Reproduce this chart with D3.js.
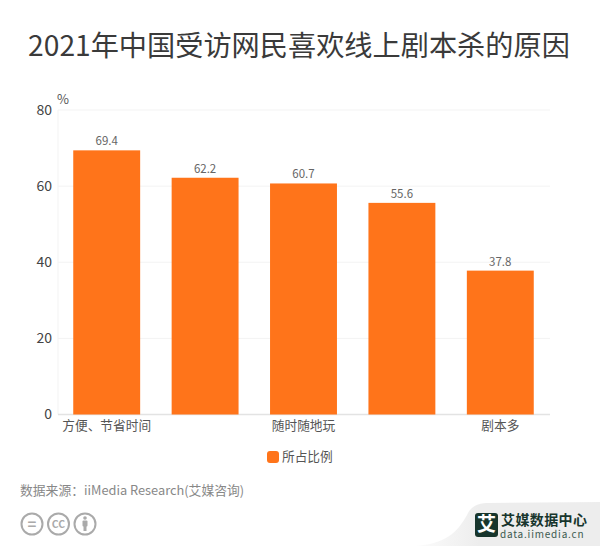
<!DOCTYPE html>
<html><head><meta charset="utf-8">
<script src="https://cdn.jsdelivr.net/npm/d3@7/dist/d3.min.js"></script>
<style>html,body{margin:0;padding:0;background:#fff}svg{display:block}text{font-family:"Noto Sans CJK SC","Noto Sans",sans-serif}</style>
</head><body><svg id="c" width="600" height="548"></svg>
<script>
const categories = ["方便、节省时间","cat2","随时随地玩","cat4","剧本多"];
const tickLabels = ["方便、节省时间","","随时随地玩","","剧本多"];
const values = [69.4,62.2,60.7,55.6,37.8];
const yTicks = [0,20,40,60,80];
const seriesName = "所占比例";
const titleText = "2021年中国受访网民喜欢线上剧本杀的原因";
const sourceText = "数据来源：iiMedia Research(艾媒咨询)";
const orange = "#ff741a";

const svg = d3.select("#c");
const x = d3.scaleBand().domain(categories).range([57.5,549.5]).paddingInner(0.32).paddingOuter(0.16);
const y = d3.scaleLinear().domain([0,80]).range([414.5,110]);

svg.append("text").attr("x",299).attr("y",56).attr("text-anchor","middle")
  .attr("font-size",28.2).attr("fill","#3a3a3a").text(titleText);

svg.append("g").selectAll("line").data(yTicks.filter(d=>d>0)).join("line")
  .attr("x1",58).attr("x2",550).attr("y1",d=>y(d)).attr("y2",d=>y(d))
  .attr("stroke","#f3f3f3").attr("stroke-width",1);
svg.append("line").attr("x1",58).attr("x2",58).attr("y1",110).attr("y2",414.5).attr("stroke","#f3f3f3");
svg.append("line").attr("x1",58).attr("x2",550).attr("y1",414.5).attr("y2",414.5).attr("stroke","#e3e3e3").attr("stroke-width",1.5);

svg.append("g").selectAll("text").data(yTicks).join("text")
  .attr("x",52).attr("y",d=>y(d)+4.5).attr("text-anchor","end")
  .attr("font-size",14).attr("fill","#444").text(d=>d);
svg.append("text").attr("x",57).attr("y",104).attr("font-size",13).attr("fill","#555").text("%");

svg.append("g").selectAll("rect").data(values).join("rect")
  .attr("x",(d,i)=>x(categories[i])).attr("width",x.bandwidth())
  .attr("y",d=>y(d)).attr("height",d=>y(0)-y(d)).attr("fill",orange);
svg.append("g").selectAll("text").data(values).join("text")
  .attr("x",(d,i)=>x(categories[i])+x.bandwidth()/2).attr("y",d=>y(d)-5)
  .attr("text-anchor","middle").attr("font-size",11.5).attr("fill","#666").text(d=>d.toFixed(1));
svg.append("g").selectAll("text").data(tickLabels).join("text")
  .attr("x",(d,i)=>x(categories[i])+x.bandwidth()/2).attr("y",430)
  .attr("text-anchor","middle").attr("font-size",12.7).attr("fill","#555").text(d=>d);

svg.append("rect").attr("x",267).attr("y",451).attr("width",12).attr("height",12).attr("rx",3).attr("fill",orange);
svg.append("text").attr("x",282).attr("y",461).attr("font-size",12.7).attr("fill","#555").text(seriesName);

svg.append("text").attr("x",20).attr("y",495).attr("font-size",12.8).attr("fill","#888").text(sourceText);

// licence icons
const icons = svg.append("g").attr("fill","none").attr("stroke","#aaa").attr("stroke-width",2);
[32,58.5,85].forEach(cx=>icons.append("circle").attr("cx",cx).attr("cy",524).attr("r",10.5));
svg.append("text").attr("x",32).attr("y",529.5).attr("text-anchor","middle").attr("font-size",15).attr("font-weight",700).attr("fill","#aaa").text("=");
svg.append("text").attr("x",58.5).attr("y",528).attr("text-anchor","middle").attr("font-size",10.5).attr("font-weight",700).attr("fill","#aaa").text("CC");
svg.append("circle").attr("cx",85).attr("cy",518).attr("r",1.8).attr("fill","#aaa");
svg.append("rect").attr("x",82.5).attr("y",520.5).attr("width",5).attr("height",6).attr("rx",1).attr("fill","#aaa");
svg.append("rect").attr("x",83.5).attr("y",526).attr("width",3).attr("height",5).attr("fill","#aaa");

// brand
const grad = svg.append("defs").append("linearGradient").attr("id","g").attr("x1","0").attr("x2","1");
grad.append("stop").attr("offset",0).attr("stop-color","#fcfcfc");
grad.append("stop").attr("offset",0.35).attr("stop-color","#ededed");
svg.append("path").attr("d","M415,546 C445,544 457,533 467,515 C471,506 478,503 490,503 L600,502 L600,546 Z").attr("fill","url(#g)");
svg.append("rect").attr("x",475).attr("y",513).attr("width",23).attr("height",24).attr("rx",3).attr("fill","#17352c");
svg.append("text").attr("x",486.5).attr("y",531).attr("text-anchor","middle").attr("font-size",19).attr("font-weight",700).attr("fill","#fff").text("艾");
svg.append("text").attr("x",501).attr("y",525).attr("font-size",14).attr("font-weight",700).attr("letter-spacing","0.4").attr("fill","#17352c").text("艾媒数据中心");
svg.append("text").attr("x",500).attr("y",538).attr("font-size",10).attr("letter-spacing","0.8").attr("fill","#3c5a50").text("data.iimedia.cn");
</script></body></html>
